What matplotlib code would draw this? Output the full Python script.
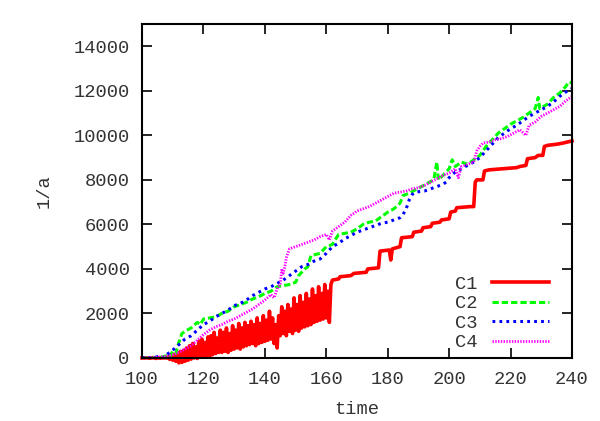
import numpy as np
import matplotlib
matplotlib.use("Agg")
import matplotlib.pyplot as plt

# C1: noisy part (half-unit steps from 100 to 161.5) followed by the step part
c1_noisy_t = list(np.arange(100, 162, 0.5))
c1_noisy_v = [0, 0, 0, 10, 0, -10, 0, 20, 0, -20, 10, 0, -10, 20, 0, 10,
              0, 60, -60, 100, -100, 150, -150, 250, -220, 300, -200, 350, -150, 450,
              -100, 550, -50, 650, 0, 500, -20, 750, 50, 850, 100, 700, 100, 950,
              50, 1000, 150, 1150, 200, 900, 250, 1250, 250, 1150, 300, 1350, 250, 1100,
              350, 1450, 400, 1250, 450, 1550, 400, 1350, 500, 1600, 550, 1450, 600,
              1650, 650, 1500, 550, 1800, 650, 1550, 700, 1900, 750, 1700, 800, 2100,
              850, 1800, 650, 1500, 450, 1900, 1000, 2300, 1100, 2100, 1000, 2400,
              1200, 2200, 1100, 2700, 1250, 2400, 1200, 2800, 1350, 2500, 1400, 2900,
              1450, 2650, 1500, 3100, 1600, 2800, 1650, 3200, 1700, 2900, 1750, 3300,
              1800, 3000, 1600, 3300]
c1_step_t = [162, 164, 164.5, 168, 169, 173, 173.5, 177, 177.5, 180.5, 181, 181.5,
             184, 184.5, 188, 188.5, 191, 191.5, 194, 194.5, 197, 197.5, 200, 200.5,
             202, 202.5, 207, 208, 208.5, 209, 211, 211.5, 213, 222, 223, 225, 225.5,
             228, 229, 230.5, 231, 232, 235, 237, 240]
c1_step_v = [3500, 3550, 3650, 3700, 3800, 3850, 4000, 4050, 4800, 4850, 4400, 4900,
             5000, 5400, 5450, 5650, 5700, 5850, 5900, 6050, 6100, 6200, 6250, 6550,
             6600, 6750, 6800, 6800, 7900, 8000, 8000, 8400, 8450, 8550, 8600, 8650,
             8950, 9000, 9100, 9100, 9500, 9550, 9600, 9650, 9750]
c1_t = c1_noisy_t + c1_step_t
c1_v = c1_noisy_v + c1_step_v

c2_t = [100, 104, 106, 108, 109, 110, 111, 112, 113, 114, 116, 118, 119, 120, 122,
        124, 126, 128, 130, 132, 134, 136, 138, 140, 142, 144, 146, 148, 150, 151,
        153, 154, 155, 158, 160, 162, 164, 166, 168, 170, 172, 174, 176, 178, 180,
        182, 184, 185, 187, 189, 191, 193, 195, 196, 196.5, 198, 200, 201, 202, 204,
        206, 208, 210, 212, 214, 216, 218, 220, 222, 224, 226, 228, 229, 229.5, 232,
        234, 236, 238, 239, 240]
c2_v = [0, 0, 30, 100, 50, 300, 200, 700, 1100, 1200, 1350, 1600, 1500, 1750, 1800,
        1850, 2000, 2100, 2300, 2400, 2500, 2650, 2750, 2900, 3000, 3200, 3250, 3300,
        3400, 3700, 4000, 4100, 4600, 4700, 5000, 5100, 5550, 5600, 5650, 5800, 6000,
        6100, 6150, 6350, 6550, 6700, 6950, 7300, 7400, 7550, 7700, 7850, 8000, 8800,
        8000, 8200, 8500, 8900, 8600, 8800, 8700, 8900, 9100, 9500, 9800, 10100, 10300,
        10500, 10650, 10800, 11000, 11200, 11700, 11200, 11400, 11700, 11900, 12200,
        12400, 12350]

c3_t = [100, 102, 103, 105, 107, 108, 110, 112, 114, 116, 118, 120, 122, 124, 126,
        128, 130, 132, 134, 136, 138, 140, 142, 144, 146, 148, 150, 152, 154, 156,
        158, 160, 162, 164, 166, 168, 170, 172, 174, 176, 178, 180, 182, 184, 185,
        186, 187, 188, 189, 192, 194, 196, 198, 199, 200, 202, 204, 206, 208, 210,
        212, 214, 216, 218, 220, 222, 224, 226, 228, 230, 232, 234, 236, 238, 240]
c3_v = [0, 50, -30, 60, 0, 150, 350, 600, 850, 1000, 1250, 1500, 1650, 1850, 2000,
        2150, 2350, 2450, 2600, 2800, 2950, 3100, 3200, 3350, 3500, 3700, 3900, 4100,
        4200, 4350, 4450, 4700, 5000, 5150, 5350, 5500, 5650, 5750, 5850, 5950, 6050,
        6100, 6200, 6300, 6450, 6700, 7100, 7350, 7450, 7500, 7600, 7700, 7800, 7900,
        8100, 8350, 8500, 8650, 8800, 9000, 9300, 9600, 9900, 10100, 10300, 10450,
        10650, 10850, 11000, 11150, 11300, 11500, 11750, 11950, 12100]

c4_t = [100, 104, 106, 108, 110, 112, 114, 116, 118, 120, 122, 124, 126, 128, 130,
        132, 134, 136, 138, 140, 142, 143, 144, 145, 145.5, 146, 146.5, 147, 148, 150,
        152, 154, 156, 158, 160, 161, 162, 164, 166, 168, 170, 172, 174, 176, 178,
        180, 182, 184, 186, 188, 190, 192, 194, 196, 198, 200, 202, 203, 204, 206,
        208, 209, 210, 211, 213, 215, 217, 219, 221, 223, 225, 226, 228, 230, 232,
        234, 236, 238, 240]
c4_v = [0, 20, 50, 80, 150, 250, 400, 550, 800, 1050, 1250, 1400, 1500, 1650, 1750,
        1900, 2050, 2200, 2400, 2600, 2850, 2700, 3100, 3300, 4000, 3800, 4100, 4500,
        4900, 5000, 5100, 5200, 5300, 5450, 5550, 5300, 5700, 5900, 6100, 6400, 6600,
        6700, 6800, 6950, 7100, 7250, 7400, 7450, 7500, 7600, 7650, 7750, 7900, 8050,
        8200, 8300, 8500, 8100, 8600, 8700, 8800, 9300, 9500, 9650, 9700, 9800, 9850,
        9950, 10100, 10250, 10000, 10450, 10600, 10850, 11000, 11150, 11300, 11550,
        11750]

x_ticks = [100, 120, 140, 160, 180, 200, 220, 240]
y_ticks = [0, 2000, 4000, 6000, 8000, 10000, 12000, 14000]

plt.rcParams['font.family'] = ['Liberation Mono', 'DejaVu Sans Mono']
plt.rcParams['lines.scale_dashes'] = False

fig = plt.figure(figsize=(6, 4.21), dpi=100)
ax = fig.add_axes([142/600, 63/421, 430/600, 334/421])

ax.plot(c1_t, c1_v, color='#ff0000', lw=2.6, label='C1', clip_on=False)
ax.plot(c2_t, c2_v, color='#00ff00', lw=2.2, dashes=(4.5, 2.2), label='C2')
ax.plot(c3_t, c3_v, color='#0000ff', lw=2.2, dashes=(2.0, 3.0), label='C3')
ax.plot(c4_t, c4_v, color='#ff00ff', lw=2.0, dashes=(1.0, 1.0), label='C4')

ax.set_xlim(100, 240)
ax.set_ylim(0, 15000)
ax.set_xticks(x_ticks)
ax.set_yticks(y_ticks)
ax.tick_params(direction='in', length=7, width=1.2, top=True, right=True,
               labelsize=13.5, labelcolor='#333333')
ax.tick_params(axis='x', pad=9)
ax.tick_params(axis='y', pad=9)
for s in ax.spines.values():
    s.set_linewidth(1.5)
    s.set_zorder(3)
ax.set_xlabel('time', fontsize=13.5, color='#333333', labelpad=10)
ax.set_ylabel('1/a', fontsize=13.5, color='#333333', labelpad=15)

leg = ax.legend(loc='lower right', bbox_to_anchor=(0.985, -0.03), frameon=False,
                markerfirst=False, fontsize=13.5, handlelength=3.0,
                labelspacing=0.12, handletextpad=0.8)
for t in leg.get_texts():
    t.set_color('#333333')

fig.savefig('out.png', dpi=100)
